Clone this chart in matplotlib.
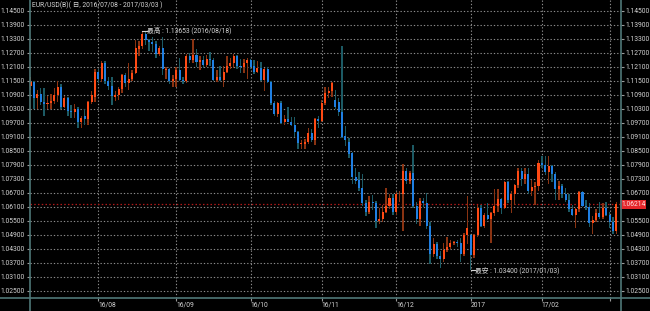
import numpy as np
import pandas as pd
import matplotlib
matplotlib.use('Agg')
import matplotlib.pyplot as plt
from matplotlib import font_manager
from matplotlib.lines import Line2D

# trading days shown (Jan 2 2017 has no candle on this chart)
dates = pd.bdate_range('2016-07-04', '2017-03-03')
dates = dates[dates != pd.Timestamp('2017-01-02')]

opens = [
    # Jul
    1.1130, 1.1145, 1.1075, 1.1095, 1.1060, 1.1050, 1.1055, 1.1065, 1.1090, 1.1125,
    1.1040, 1.1075, 1.1020, 1.1015, 1.1030, 1.0975, 1.1000, 1.0985, 1.1060, 1.1080,
    # Aug
    1.1190, 1.1160, 1.1225, 1.1150, 1.1130, 1.1080, 1.1090, 1.1115, 1.1175, 1.1140,
    1.1160, 1.1185, 1.1285, 1.1300, 1.1350, 1.1325, 1.1315, 1.1310, 1.1265, 1.1290,
    1.1195, 1.1200, 1.1150,
    # Sep
    1.1160, 1.1195, 1.1155, 1.1150, 1.1255, 1.1240, 1.1260, 1.1230, 1.1240, 1.1220,
    1.1245, 1.1240, 1.1155, 1.1165, 1.1155, 1.1190, 1.1215, 1.1225, 1.1255, 1.1215,
    1.1210, 1.1225,
    # Oct
    1.1240, 1.1215, 1.1190, 1.1205, 1.1155, 1.1200, 1.1145, 1.1055, 1.1010, 1.1055,
    1.0975, 1.0985, 1.0975, 1.0960, 1.0930, 1.0880, 1.0880, 1.0890, 1.0925, 1.0895,
    1.0985,
    # Nov
    1.0980, 1.1055, 1.1100, 1.1105, 1.1070, 1.1060, 1.1015, 1.0915, 1.0890, 1.0840,
    1.0740, 1.0725, 1.0690, 1.0625, 1.0590, 1.0630, 1.0625, 1.0550, 1.0560, 1.0590,
    1.0615, 1.0650,
    # Dec
    1.0590, 1.0665, 1.0665, 1.0765, 1.0720, 1.0755, 1.0615, 1.0560, 1.0635, 1.0625,
    1.0530, 1.0410, 1.0450, 1.0400, 1.0385, 1.0425, 1.0440, 1.0455, 1.0458, 1.0455,
    1.0410, 1.0490,
    # Jan
    1.0490, 1.0405, 1.0490, 1.0605, 1.0530, 1.0575, 1.0560, 1.0585, 1.0615, 1.0645,
    1.0605, 1.0715, 1.0640, 1.0665, 1.0705, 1.0765, 1.0730, 1.0750, 1.0680, 1.0695,
    1.0700,
    # Feb
    1.0800, 1.0790, 1.0760, 1.0785, 1.0750, 1.0685, 1.0700, 1.0665, 1.0640, 1.0600,
    1.0575, 1.0600, 1.0675, 1.0615, 1.0610, 1.0540, 1.0555, 1.0585, 1.0565, 1.0605,
    # Mar
    1.0575, 1.0545, 1.0505,
]
highs = [
    1.1165, 1.1150, 1.1110, 1.1120, 1.1120, 1.1085, 1.1095, 1.1120, 1.1150, 1.1135,
    1.1085, 1.1080, 1.1045, 1.1050, 1.1040, 1.1000, 1.1030, 1.1065, 1.1105, 1.1200,
    1.1200, 1.1235, 1.1235, 1.1165, 1.1165, 1.1105, 1.1125, 1.1180, 1.1185, 1.1225,
    1.1195, 1.1325, 1.1320, 1.13653, 1.1365, 1.1330, 1.1340, 1.1320, 1.1300, 1.1340,
    1.1210, 1.1205, 1.1175,
    1.1210, 1.1250, 1.1165, 1.1265, 1.1270, 1.1330, 1.1285, 1.1255, 1.1255, 1.1260,
    1.1275, 1.1250, 1.1195, 1.1215, 1.1215, 1.1255, 1.1250, 1.1265, 1.1260, 1.1245,
    1.1245, 1.1250,
    1.1245, 1.1240, 1.1235, 1.1230, 1.1205, 1.1210, 1.1150, 1.1065, 1.1060, 1.1065,
    1.1005, 1.1040, 1.0995, 1.0995, 1.0935, 1.0895, 1.0900, 1.0950, 1.0945, 1.0990,
    1.1000,
    1.1070, 1.1125, 1.1125, 1.1145, 1.1110, 1.1075, 1.1300, 1.0955, 1.0905, 1.0845,
    1.0775, 1.0760, 1.0750, 1.0640, 1.0655, 1.0660, 1.0635, 1.0605, 1.0620, 1.0690,
    1.0665, 1.0665,
    1.0675, 1.0680, 1.0795, 1.0775, 1.0765, 1.0875, 1.0630, 1.0650, 1.0650, 1.0670,
    1.0545, 1.0475, 1.0460, 1.0420, 1.0455, 1.0480, 1.0470, 1.0465, 1.0470, 1.0475,
    1.0500, 1.0655,
    1.0495, 1.0495, 1.0620, 1.0620, 1.0585, 1.0625, 1.0590, 1.0685, 1.0685, 1.0650,
    1.0720, 1.0720, 1.0680, 1.0710, 1.0775, 1.0775, 1.0775, 1.0775, 1.0725, 1.0715,
    1.0810,
    1.0830, 1.0830, 1.0830, 1.0790, 1.0760, 1.0720, 1.0710, 1.0690, 1.0665, 1.0620,
    1.0605, 1.0680, 1.0680, 1.0640, 1.0625, 1.0570, 1.0600, 1.0630, 1.0625, 1.0630,
    1.0590, 1.0565, 1.0630,
]
lows = [
    1.1110, 1.1030, 1.1030, 1.1045, 1.1000, 1.1030, 1.1030, 1.1050, 1.1060, 1.1030,
    1.1035, 1.1000, 1.0990, 1.0990, 1.0950, 1.0950, 1.0960, 1.0960, 1.1050, 1.1060,
    1.1140, 1.1145, 1.1135, 1.1110, 1.1045, 1.1065, 1.1070, 1.1100, 1.1125, 1.1110,
    1.1150, 1.1180, 1.1255, 1.1285, 1.1305, 1.1280, 1.1275, 1.1250, 1.1255, 1.1175,
    1.1160, 1.1135, 1.1125,
    1.1125, 1.1150, 1.1135, 1.1140, 1.1225, 1.1225, 1.1210, 1.1195, 1.1205, 1.1210,
    1.1215, 1.1150, 1.1145, 1.1150, 1.1125, 1.1185, 1.1200, 1.1205, 1.1200, 1.1185,
    1.1185, 1.1160,
    1.1200, 1.1180, 1.1185, 1.1150, 1.1105, 1.1140, 1.1045, 1.1000, 1.0995, 1.0965,
    1.0960, 1.0975, 1.0955, 1.0910, 1.0860, 1.0860, 1.0860, 1.0880, 1.0890, 1.0875,
    1.0950,
    1.0975, 1.1045, 1.1075, 1.1080, 1.1030, 1.1000, 1.0905, 1.0870, 1.0820, 1.0710,
    1.0710, 1.0680, 1.0615, 1.0570, 1.0580, 1.0595, 1.0520, 1.0535, 1.0545, 1.0585,
    1.0600, 1.0575,
    1.0575, 1.0630, 1.0505, 1.0710, 1.0710, 1.0605, 1.0535, 1.0530, 1.0610, 1.0515,
    1.0365, 1.0395, 1.0385, 1.0350, 1.0375, 1.0415, 1.0430, 1.0445, 1.0440, 1.0375,
    1.0400, 1.0450,
    1.0340, 1.0390, 1.0480, 1.0525, 1.0520, 1.0555, 1.0455, 1.0570, 1.0590, 1.0580,
    1.0600, 1.0625, 1.0585, 1.0620, 1.0690, 1.0700, 1.0710, 1.0665, 1.0655, 1.0620,
    1.0680,
    1.0775, 1.0745, 1.0710, 1.0715, 1.0640, 1.0640, 1.0650, 1.0630, 1.0590, 1.0570,
    1.0520, 1.0590, 1.0610, 1.0595, 1.0525, 1.0495, 1.0545, 1.0560, 1.0560, 1.0570,
    1.0520, 1.0495, 1.0495,
]
closes = [
    1.1145, 1.1075, 1.1095, 1.1060, 1.1050, 1.1055, 1.1065, 1.1090, 1.1125, 1.1040,
    1.1075, 1.1020, 1.1015, 1.1030, 1.0975, 1.0990, 1.0985, 1.1060, 1.1090, 1.1190,
    1.1160, 1.1225, 1.1150, 1.1130, 1.1085, 1.1090, 1.1115, 1.1175, 1.1140, 1.1160,
    1.1185, 1.1290, 1.1300, 1.1350, 1.1325, 1.1315, 1.1310, 1.1265, 1.1290, 1.1200,
    1.1200, 1.1150, 1.1160,
    1.1195, 1.1155, 1.1150, 1.1255, 1.1240, 1.1260, 1.1230, 1.1240, 1.1220, 1.1245,
    1.1240, 1.1155, 1.1165, 1.1155, 1.1190, 1.1215, 1.1225, 1.1255, 1.1215, 1.1210,
    1.1225, 1.1240,
    1.1210, 1.1190, 1.1205, 1.1155, 1.1200, 1.1145, 1.1055, 1.1010, 1.1055, 1.0970,
    1.0985, 1.0975, 1.0960, 1.0930, 1.0885, 1.0885, 1.0890, 1.0925, 1.0895, 1.0985,
    1.0980,
    1.1055, 1.1100, 1.1105, 1.1140, 1.1040, 1.1015, 1.0910, 1.0895, 1.0835, 1.0740,
    1.0720, 1.0690, 1.0625, 1.0590, 1.0630, 1.0625, 1.0550, 1.0560, 1.0590, 1.0615,
    1.0650, 1.0590,
    1.0665, 1.0665, 1.0765, 1.0720, 1.0755, 1.0615, 1.0560, 1.0635, 1.0625, 1.0530,
    1.0410, 1.0450, 1.0400, 1.0385, 1.0425, 1.0440, 1.0455, 1.0458, 1.0455, 1.0410,
    1.0490, 1.0520,
    1.0405, 1.0490, 1.0605, 1.0530, 1.0575, 1.0560, 1.0585, 1.0615, 1.0645, 1.0605,
    1.0715, 1.0640, 1.0665, 1.0705, 1.0765, 1.0730, 1.0750, 1.0680, 1.0695, 1.0700,
    1.0800,
    1.0790, 1.0760, 1.0785, 1.0750, 1.0685, 1.0700, 1.0665, 1.0640, 1.0600, 1.0575,
    1.0600, 1.0675, 1.0615, 1.0610, 1.0540, 1.0555, 1.0585, 1.0565, 1.0605, 1.0575,
    1.0545, 1.0505, 1.06214,
]

month_labels = ['16/08', '16/09', '16/10', '16/11', '16/12', '2017', '17/02', '']
price_ticks = np.round(np.arange(1.025, 1.1451, 0.006), 3)
last_price = 1.06214
high_text = '最高 : 1.13653 (2016/08/18)'
low_text = '最安 : 1.03400 (2017/01/03)'
title_text = 'EUR/USD(B)( 日, 2016/07/08 - 2017/03/03 )'

# fonts: a fairly narrow latin face, CJK fallback
names = {f.name for f in font_manager.fontManager.ttflist}
base = 'Roboto' if 'Roboto' in names else 'Liberation Sans'
fam = [base, 'Noto Sans CJK JP']
fs = 4.9

o = np.array(opens)
h = np.array(highs)
l = np.array(lows)
c = np.array(closes)
x = np.arange(len(dates))
up = c >= o

fig = plt.figure(figsize=(6.5, 3.11), dpi=100, facecolor='black')
ax = fig.add_axes([30 / 650, 13 / 311, 590.6 / 650, 298 / 311], facecolor='black')
ax.set_xlim(-0.17, 174.25)
ax.set_ylim(1.0220, 1.14971)

dots = (0, (1.2, 1.8))
grid_col = '#8a8a8a'
for p in price_ticks:
    ax.axhline(p, color=grid_col, lw=0.8, ls=dots, zorder=1)

month_idx = [i for i in range(1, len(dates)) if dates[i].month != dates[i - 1].month]
for i in month_idx:
    ax.axvline(i, color=grid_col, lw=0.8, ls=dots, zorder=1)

ax.axhline(last_price, color='#b01818', lw=0.9, ls=dots, zorder=1.5)

# candles: dark wick over the full range, bright body
wick_col = np.where(up, '#8a3312', '#1c5a64')
body_col = np.where(up, '#ff4a14', '#1f7fe2')
ax.bar(x, h - l, bottom=l, width=0.42, color=wick_col, zorder=2)
body_h = np.maximum(np.abs(c - o), 0.00012)
ax.bar(x, body_h, bottom=np.minimum(o, c), width=0.6, color=body_col, zorder=3)

# high / low markers
txt_col = '#d4d4d4'
hi = int(np.argmax(h))
lo = int(np.argmin(l))
ax.plot([hi, hi + 1.3], [h[hi], h[hi]], color=txt_col, lw=0.8, zorder=4)
ax.text(hi + 1.35, h[hi], high_text, color=txt_col, fontsize=fs, family=fam,
        va='center', ha='left', zorder=4)
ax.plot([lo, lo + 1.3], [l[lo], l[lo]], color=txt_col, lw=0.8, zorder=4)
ax.text(lo + 1.35, l[lo], low_text, color=txt_col, fontsize=fs, family=fam,
        va='center', ha='left', zorder=4)

ax.text(0.0035, 0.983, title_text, transform=ax.transAxes, color=txt_col,
        fontsize=fs, family=fam, va='center', ha='left')

# price ticks on both sides
ax.set_yticks(price_ticks)
ax.set_yticklabels([f'{p:.5f}' for p in price_ticks])
ax.tick_params(axis='y', left=True, right=True, labelleft=True, labelright=True,
               direction='out', length=2.5, width=0.8, color='#9a9a9a',
               labelcolor=txt_col, labelsize=fs, pad=1)
ax.set_xticks(month_idx)
ax.set_xticklabels(month_labels, ha='left')
ax.tick_params(axis='x', direction='out', length=2, width=0.8, color='#9a9a9a',
               labelcolor=txt_col, labelsize=fs, pad=0.8)
for t in ax.get_xticklabels() + ax.get_yticklabels():
    t.set_family(fam)
for tick in ax.yaxis.get_major_ticks():
    tick.label2.set_family(fam)
for s in ax.spines.values():
    s.set_visible(False)

# the right-hand label under the price box is hidden by it
covered = int(np.argmin(np.abs(price_ticks - last_price)))
ax.yaxis.get_major_ticks()[covered].label2.set_visible(False)

# current price box on the right axis
ax.text(1.0008, last_price, f'{last_price:.5f}', transform=ax.get_yaxis_transform(),
        color='#ffe0e0', fontsize=fs, family=fam, va='center', ha='left', zorder=5,
        bbox=dict(boxstyle='square,pad=0.15', fc='#e4262a', ec='none'))

# frame lines run to the figure edges
axis_col = '#4f7878'
fig.add_artist(Line2D([30 / 650, 30 / 650], [0, 1], color=axis_col, lw=1.2))
fig.add_artist(Line2D([620.6 / 650, 620.6 / 650], [0, 1], color=axis_col, lw=1.2))
fig.add_artist(Line2D([0, 1], [13 / 311, 13 / 311], color=axis_col, lw=1.2))

fig.savefig('out.png', dpi=100, facecolor='black')
